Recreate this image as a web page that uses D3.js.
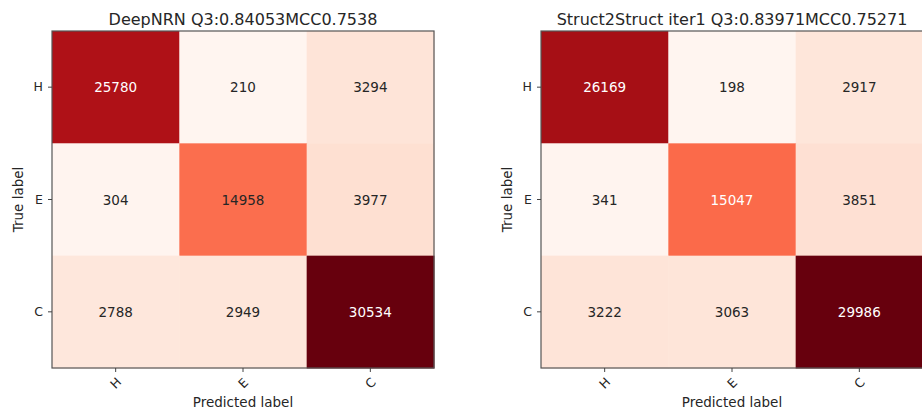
<!DOCTYPE html>
<html>
<head>
<meta charset="utf-8">
<script src="https://cdn.jsdelivr.net/npm/d3@7"></script>
<style>
  html, body { margin: 0; padding: 0; background: #fff; }
  svg { display: block; }
  text { font-family: "DejaVu Sans", sans-serif; fill: #262626; }
</style>
</head>
<body>
<svg id="chart" width="922" height="409"></svg>
<script>
// Class labels shared by both confusion matrices
const classes = ["H", "E", "C"];

// Panel titles
const titles = [
  "DeepNRN Q3:0.84053MCC0.7538",
  "Struct2Struct iter1 Q3:0.83971MCC0.75271"
];

// Confusion matrices: rows = true label, columns = predicted label
const deepNRN = [
  [25780, 210, 3294],
  [304, 14958, 3977],
  [2788, 2949, 30534]
];
const struct2Struct = [
  [26169, 198, 2917],
  [341, 15047, 3851],
  [3222, 3063, 29986]
];

const matrices = [deepNRN, struct2Struct];

// ColorBrewer "Reds" stops, interpolated linearly between them
const redsStops = ["#fff5f0", "#fee0d2", "#fcbba1", "#fc9272", "#fb6a4a",
                   "#ef3b2c", "#cb181d", "#a50f15", "#67000d"];

const svg = d3.select("#chart");

const panelLeft = [52, 541];
const panelTop = 31;
const panelW = 382;
const panelH = 337;

matrices.forEach((m, i) => {
  const x0 = panelLeft[i];
  const flat = m.flat();
  const vmin = d3.min(flat), vmax = d3.max(flat);
  const thresh = vmax / 2;

  const color = d3.scaleLinear()
    .domain(redsStops.map((_, k) => vmin + (vmax - vmin) * k / (redsStops.length - 1)))
    .range(redsStops)
    .interpolate(d3.interpolateRgb);

  const x = d3.scaleBand().domain(classes).range([x0, x0 + panelW]);
  const y = d3.scaleBand().domain(classes).range([panelTop, panelTop + panelH]);

  const g = svg.append("g");

  const cells = [];
  m.forEach((row, r) => row.forEach((v, c) => cells.push({ t: classes[r], p: classes[c], v })));

  g.selectAll("rect.cell").data(cells).join("rect")
    .attr("class", "cell")
    .attr("x", d => x(d.p))
    .attr("y", d => y(d.t))
    .attr("width", x.bandwidth() + 0.5)
    .attr("height", y.bandwidth() + 0.5)
    .attr("fill", d => color(d.v));

  g.selectAll("text.val").data(cells).join("text")
    .attr("class", "val")
    .attr("x", d => x(d.p) + x.bandwidth() / 2)
    .attr("y", d => y(d.t) + y.bandwidth() / 2)
    .attr("text-anchor", "middle")
    .attr("dominant-baseline", "central")
    .style("font-size", "13.5px")
    .style("fill", d => d.v > thresh ? "#ffffff" : "#262626")
    .text(d => d.v);

  // frame
  g.append("rect")
    .attr("x", x0).attr("y", panelTop)
    .attr("width", panelW).attr("height", panelH)
    .attr("fill", "none").attr("stroke", "#555").attr("stroke-width", 1.2);

  // y axis
  const yAxis = g.append("g")
    .attr("transform", `translate(${x0},0)`)
    .call(d3.axisLeft(y).tickSize(4).tickPadding(5));
  yAxis.select(".domain").remove();
  yAxis.selectAll("line").attr("stroke", "#444");
  yAxis.selectAll("text")
    .style("font-size", "12.5px")
    .style("font-family", "DejaVu Sans, sans-serif")
    .attr("fill", "#262626");

  // x axis with rotated labels
  const xAxis = g.append("g")
    .attr("transform", `translate(0,${panelTop + panelH})`)
    .call(d3.axisBottom(x).tickSize(4).tickPadding(0));
  xAxis.select(".domain").remove();
  xAxis.selectAll("line").attr("stroke", "#444");
  xAxis.selectAll("text")
    .style("font-size", "12.5px")
    .style("font-family", "DejaVu Sans, sans-serif")
    .attr("fill", "#262626")
    .attr("y", 0)
    .attr("dy", 0)
    .attr("text-anchor", "middle")
    .attr("dominant-baseline", "central")
    .attr("transform", "translate(0,15) rotate(-45)");

  // axis titles
  g.append("text")
    .attr("x", x0 + panelW / 2)
    .attr("y", 407)
    .attr("text-anchor", "middle")
    .style("font-size", "13.5px")
    .text("Predicted label");

  g.append("text")
    .attr("transform", `translate(${x0 - 29},${panelTop + panelH / 2}) rotate(-90)`)
    .attr("text-anchor", "middle")
    .style("font-size", "13.5px")
    .text("True label");

  g.append("text")
    .attr("x", x0 + panelW / 2)
    .attr("y", 25)
    .attr("text-anchor", "middle")
    .style("font-size", "16px")
    .text(titles[i]);
});
</script>
</body>
</html>
